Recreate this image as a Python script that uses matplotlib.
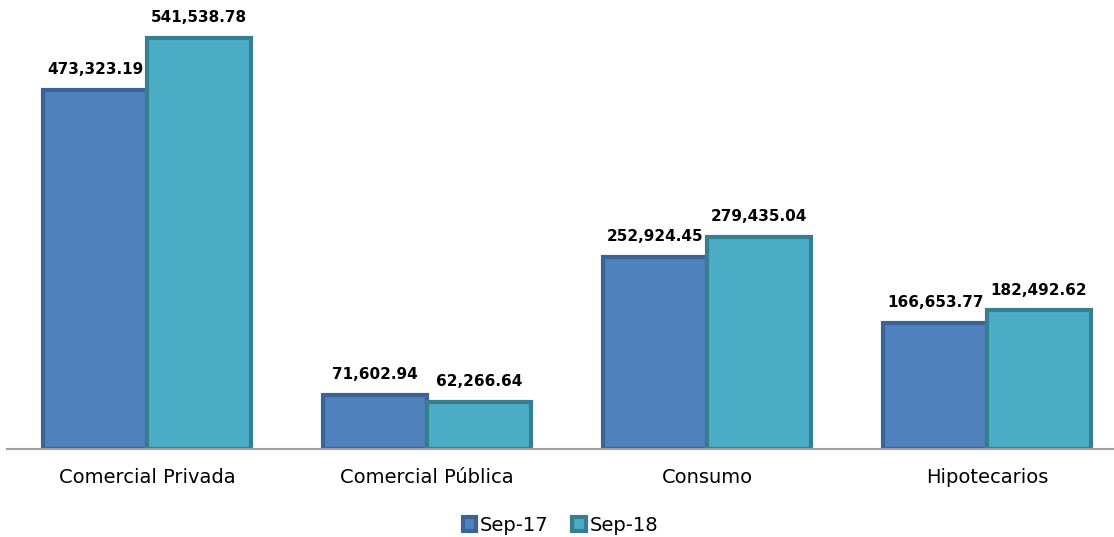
import matplotlib.pyplot as plt
import numpy as np

categories = ['Comercial Privada', 'Comercial Pública', 'Consumo', 'Hipotecarios']
sep17 = [473323.19, 71602.94, 252924.45, 166653.77]
sep18 = [541538.78, 62266.64, 279435.04, 182492.62]
series_names = ['Sep-17', 'Sep-18']

fills = ['#4F81BD', '#4BACC6']
edges = ['#3B6396', '#357F91']

fig = plt.figure(figsize=(11.14, 5.37), dpi=100)
ax = fig.add_axes([7/1114, 88/537, 1107/1114, 449/537])

x = np.arange(len(categories))
w = 0.37
for i, (vals, name) in enumerate(zip([sep17, sep18], series_names)):
    pos = x + (i - 0.5) * w
    bars = ax.bar(pos, vals, width=w, color=fills[i], edgecolor=edges[i],
                  linewidth=3, label=name, zorder=3)
    for b, v in zip(bars, vals):
        ax.text(b.get_x() + b.get_width()/2, v + 17000, f'{v:,.2f}',
                ha='center', va='bottom', fontsize=11, fontweight='bold')

ax.set_xlim(-0.5, -0.5 + 1107/280)
ax.set_ylim(0, 591600)
ax.set_yticks([])
ax.set_xticks(x)
ax.set_xticklabels(categories, fontsize=14)
ax.tick_params(axis='x', length=0, pad=14)
for s in ['top', 'right', 'left']:
    ax.spines[s].set_visible(False)
ax.spines['bottom'].set_color('#A0A0A0')
ax.spines['bottom'].set_linewidth(1.5)
ax.spines['bottom'].set_zorder(4)

leg = ax.legend(loc='lower center', bbox_to_anchor=(0.5, -0.23), ncol=2, frameon=False,
                fontsize=14, handlelength=0.7, handleheight=0.7, handletextpad=0.2,
                columnspacing=1.2)

fig.savefig('out.png', dpi=100)
